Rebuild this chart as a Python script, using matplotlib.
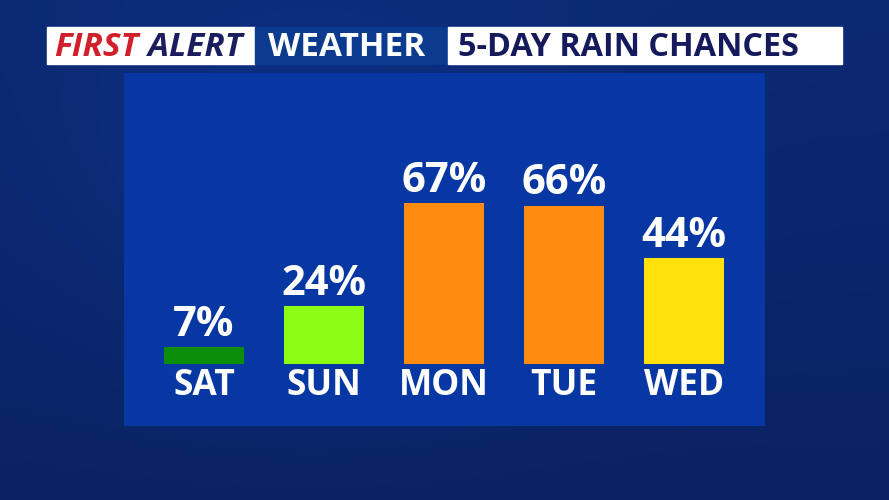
import numpy as np
import matplotlib.pyplot as plt
from matplotlib.patches import Rectangle

# chart data
days = ['SAT', 'SUN', 'MON', 'TUE', 'WED']
chances = [7, 24, 67, 66, 44]
bar_colors = ['#0b8f0b', '#8dfc14', '#ff8c10', '#ff8c10', '#ffe10c']

W, H = 889, 500
fig = plt.figure(figsize=(W / 100, H / 100), dpi=100)

# background: dark blue gradient
bg = fig.add_axes([0, 0, 1, 1])
yy, xx = np.mgrid[0:1:200j, 0:1:360j]
shade = 0.5 + 0.25 * np.exp(-((xx - 0.35) ** 2 / 0.08 + (yy - 0.35) ** 2 / 0.15)) - 0.2 * yy
c1 = np.array([0x05, 0x18, 0x4c]) / 255
c2 = np.array([0x12, 0x3a, 0x9a]) / 255
img = c1[None, None, :] * (1 - shade[..., None]) + c2[None, None, :] * shade[..., None]
bg.imshow(np.clip(img, 0, 1), extent=[0, W, H, 0], aspect='auto')
bg.set_xlim(0, W)
bg.set_ylim(H, 0)
bg.axis('off')

# header boxes
bg.add_patch(Rectangle((47, 27), 208, 37, color='white'))
bg.add_patch(Rectangle((255, 27), 193, 37, color='#0c3a8e'))
bg.add_patch(Rectangle((448, 27), 394, 37, color='white'))
bg.text(54, 47, 'FIRST', color='#d11f2b', fontsize=24, fontweight='bold', style='italic',
        family='Open Sans', va='center', ha='left')
bg.text(148, 47, 'ALERT', color='#1b1d5e', fontsize=24, fontweight='bold', style='italic',
        family='Open Sans', va='center', ha='left')
bg.text(347, 47, 'WEATHER', color='white', fontsize=24, fontweight='bold',
        family='Open Sans', va='center', ha='center')
bg.text(458, 47, '5-DAY RAIN CHANCES', color='#141a5c', fontsize=23.3, fontweight='bold',
        family='Open Sans', va='center', ha='left')

# panel with bars
ax = fig.add_axes([124 / W, 1 - 426 / H, 641 / W, 353 / H])
ax.set_facecolor('#0637a2')
x = np.arange(len(days))
ax.bar(x, chances, width=0.667, color=bar_colors)
for xi, v, d in zip(x, chances, days):
    ax.text(xi, v + 0.5, f'{v}%', color='white', fontsize=30, fontweight='bold',
            family='Open Sans', ha='center', va='bottom')
    ax.text(xi, -1.5, d, color='white', fontsize=25.5, fontweight='bold',
            family='Open Sans', ha='center', va='top')
ax.set_xlim(-0.667, 4.675)
ax.set_ylim(-25.8, 121.25)
ax.set_xticks([])
ax.set_yticks([])
for s in ax.spines.values():
    s.set_visible(False)

fig.savefig('out.png', dpi=100)
